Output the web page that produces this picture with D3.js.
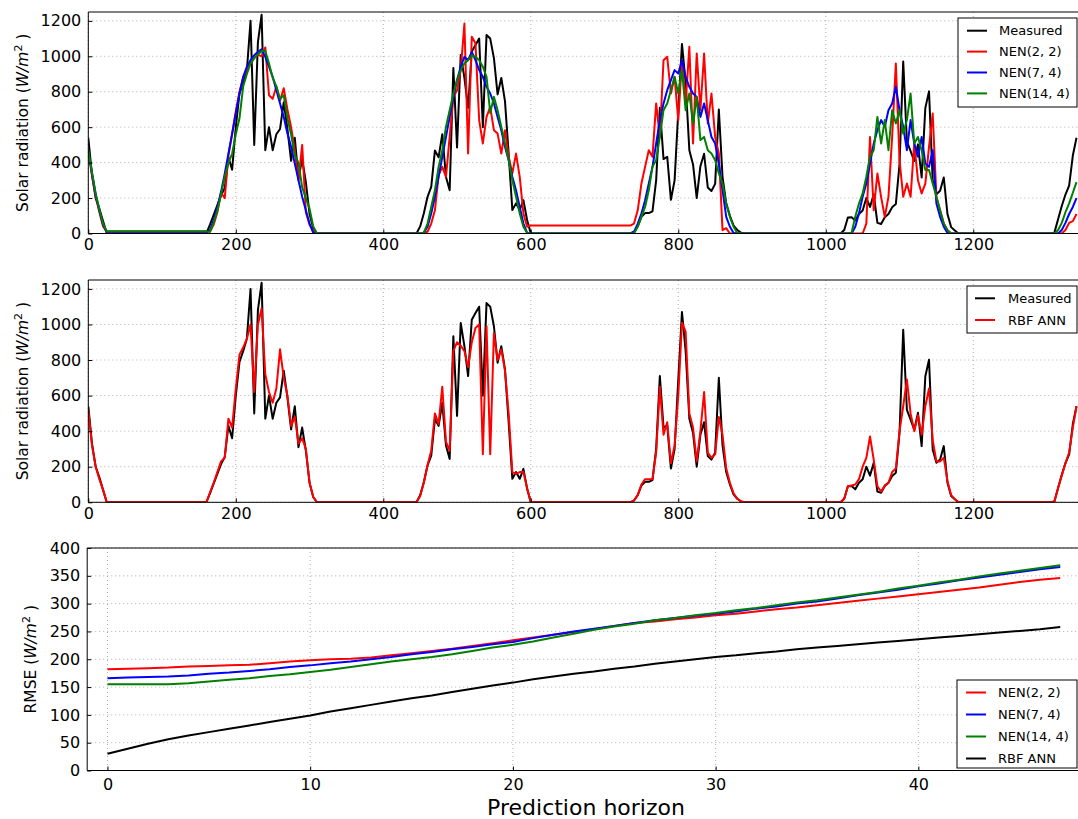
<!DOCTYPE html>
<html>
<head>
<meta charset="utf-8">
<script src="https://cdn.jsdelivr.net/npm/d3@7"></script>
<style>
    body { margin: 0; background: #fff; }
    svg text { font-family: "DejaVu Sans", sans-serif; fill: #000; }
</style>
</head>
<body>
<div id="chart"></div>
<script>
// Solar radiation series, one value every 5 samples (0 .. 1340)
const step = 5;

const measured = [
    540, 330, 200, 140, 70,
    0, 0, 0, 0, 0, 0, 0, 0, 0, 0, 0, 0, 0, 0, 0, 0, 0, 0, 0, 0, 0, 0, 0, 0, 0, 0, 0,
    0, 50, 105, 160, 215, 255, 430, 360, 600, 790, 850, 920, 1200, 500, 1080, 1235, 470, 600, 470, 560, 590, 740, 590, 410, 540, 310, 420, 290, 110, 30, 0,
    0, 0, 0, 0, 0, 0, 0, 0, 0, 0, 0, 0, 0, 0, 0, 0, 0, 0, 0, 0, 0, 0, 0, 0, 0, 0,
    0, 40, 114, 207, 263, 468, 430, 560, 319, 244, 934, 486, 1008, 878, 710, 1027, 1064, 1100, 600, 1120, 1100, 990, 785, 878, 747, 450, 132, 170, 132, 188, 76, 0,
    0, 0, 0, 0, 0, 0, 0, 0, 0, 0, 0, 0, 0, 0, 0, 0, 0, 0, 0, 0, 0, 0, 0, 0, 0, 0, 0,
    10, 40, 94, 115, 115, 125, 300, 710, 420, 433, 190, 300, 690, 1070, 850, 470, 390, 200, 380, 450, 260, 240, 280, 700, 320, 170, 100, 45, 20, 5, 0,
    0, 0, 0, 0, 0, 0, 0, 0, 0, 0, 0, 0, 0, 0, 0, 0, 0, 0, 0, 0, 0, 0, 0, 0, 0,
    0, 20, 90, 92, 73, 110, 130, 200, 150, 222, 60, 54, 92, 110, 148, 166, 390, 970, 520, 465, 409, 503, 316, 709, 802, 297, 222, 241, 316, 110, 36, 17, 0,
    0, 0, 0, 0, 0, 0, 0, 0, 0, 0, 0, 0, 0, 0, 0, 0, 0, 0, 0, 0, 0, 0, 0,
    0, 0, 5, 80, 155, 220, 270, 440, 540
];

const nen22 = [
    460, 330, 210, 120, 40,
    10, 10, 10, 10, 10, 10, 10, 10, 10, 10, 10, 10, 10, 10, 10, 10, 10, 10, 10, 10, 10, 10, 10, 10, 10, 10, 10,
    10, 10, 50, 120, 230, 200, 440, 560, 690, 800, 880, 930, 960, 990, 1010, 1000, 1050, 780, 760, 830, 750, 820, 700, 600, 470, 300, 500, 120, 50, 15, 0,
    0, 0, 0, 0, 0, 0, 0, 0, 0, 0, 0, 0, 0, 0, 0, 0, 0, 0, 0, 0, 0, 0, 0, 0, 0, 0,
    0, 0, 3, 10, 56, 131, 330, 376, 320, 545, 771, 809, 922, 1185, 451, 1110, 1073, 640, 508, 658, 715, 583, 564, 451, 583, 433, 339, 451, 320, 113, 38, 45,
    45, 45, 45, 45, 45, 45, 45, 45, 45, 45, 45, 45, 45, 45, 45, 45, 45, 45, 45, 45, 45, 45, 45, 45, 45, 45, 45,
    56, 131, 282, 376, 470, 433, 734, 545, 978, 997, 790, 884, 640, 978, 734, 1054, 508, 1016, 696, 1016, 621, 790, 545, 451, 19, 30, 0, 0, 0, 0, 0,
    0, 0, 0, 0, 0, 0, 0, 0, 0, 0, 0, 0, 0, 0, 0, 0, 0, 0, 0, 0, 0, 0, 0, 0, 0,
    0, 0, 0, 0, 0, 0, 0, 56, 545, 131, 339, 207, 94, 207, 545, 960, 414, 207, 282, 207, 508, 301, 226, 282, 489, 677, 207, 131, 56, 19, 0, 0, 0,
    0, 0, 0, 0, 0, 0, 0, 0, 0, 0, 0, 0, 0, 0, 0, 0, 0, 0, 0, 0, 0, 0, 0,
    0, 0, 0, 0, 0, 20, 60, 70, 110
];

const nen74 = [
    470, 340, 220, 130, 50,
    10, 10, 10, 10, 10, 10, 10, 10, 10, 10, 10, 10, 10, 10, 10, 10, 10, 10, 10, 10, 10, 10, 10, 10, 10, 10, 10,
    10, 18, 75, 150, 235, 338, 451, 564, 677, 790, 884, 941, 978, 1006, 1025, 1039, 997, 941, 884, 809, 734, 658, 564, 489, 395, 301, 207, 131, 56, 4, 0,
    0, 0, 0, 0, 0, 0, 0, 0, 0, 0, 0, 0, 0, 0, 0, 0, 0, 0, 0, 0, 0, 0, 0, 0, 0, 0,
    0, 0, 5, 38, 113, 207, 320, 433, 545, 658, 771, 866, 941, 997, 978, 1025, 978, 922, 884, 828, 790, 734, 658, 583, 489, 414, 320, 244, 150, 56, 3, 0,
    0, 0, 0, 0, 0, 0, 0, 0, 0, 0, 0, 0, 0, 0, 0, 0, 0, 0, 0, 0, 0, 0, 0, 0, 0, 0, 0,
    9, 56, 113, 188, 282, 376, 508, 640, 734, 809, 866, 922, 903, 978, 884, 828, 790, 771, 658, 734, 640, 545, 508, 395, 244, 94, 38, 3, 0, 0, 0,
    0, 0, 0, 0, 0, 0, 0, 0, 0, 0, 0, 0, 0, 0, 0, 0, 0, 0, 0, 0, 0, 0, 0, 0, 0,
    0, 0, 0, 0, 38, 113, 207, 282, 395, 508, 583, 640, 602, 696, 734, 828, 696, 602, 470, 640, 508, 433, 545, 395, 376, 470, 169, 94, 38, 3, 0, 0, 0,
    0, 0, 0, 0, 0, 0, 0, 0, 0, 0, 0, 0, 0, 0, 0, 0, 0, 0, 0, 0, 0, 0, 0,
    0, 0, 0, 0, 20, 60, 110, 150, 200
];

const nen144 = [
    470, 345, 225, 135, 55,
    12, 12, 12, 12, 12, 12, 12, 12, 12, 12, 12, 12, 12, 12, 12, 12, 12, 12, 12, 12, 12, 12, 12, 12, 12, 12, 12,
    12, 10, 60, 130, 220, 320, 400, 450, 560, 650, 830, 900, 960, 990, 1010, 1030, 1030, 960, 880, 830, 760, 780, 650, 560, 440, 400, 260, 200, 140, 40, 0,
    0, 0, 0, 0, 0, 0, 0, 0, 0, 0, 0, 0, 0, 0, 0, 0, 0, 0, 0, 0, 0, 0, 0, 0, 0, 0,
    0, 0, 5, 56, 150, 244, 376, 470, 602, 696, 790, 866, 922, 960, 978, 1006, 997, 978, 941, 884, 680, 771, 696, 602, 508, 414, 301, 207, 113, 38, 3, 0,
    0, 0, 0, 0, 0, 0, 0, 0, 0, 0, 0, 0, 0, 0, 0, 0, 0, 0, 0, 0, 0, 0, 0, 0, 0, 0, 0,
    0, 38, 94, 150, 244, 376, 414, 545, 696, 734, 809, 884, 790, 922, 696, 790, 621, 771, 527, 545, 470, 451, 414, 339, 282, 169, 94, 38, 3, 0, 0,
    0, 0, 0, 0, 0, 0, 0, 0, 0, 0, 0, 0, 0, 0, 0, 0, 0, 0, 0, 0, 0, 0, 0, 0, 0,
    0, 0, 0, 5, 94, 169, 226, 320, 433, 470, 658, 508, 640, 470, 696, 621, 696, 564, 640, 790, 508, 545, 470, 358, 358, 282, 207, 131, 56, 19, 0, 0, 0,
    0, 0, 0, 0, 0, 0, 0, 0, 0, 0, 0, 0, 0, 0, 0, 0, 0, 0, 0, 0, 0, 0, 0,
    0, 0, 0, 20, 60, 120, 170, 230, 290
];

const rbfAnn = [
    520, 320, 200, 130, 70,
    0, 0, 0, 0, 0, 0, 0, 0, 0, 0, 0, 0, 0, 0, 0, 0, 0, 0, 0, 0, 0, 0, 0, 0, 0, 0, 0,
    0, 55, 110, 170, 230, 250, 470, 420, 640, 830, 870, 920, 1000, 620, 1000, 1090, 720, 620, 560, 640, 860, 700, 600, 430, 480, 330, 360, 300, 110, 30, 0,
    0, 0, 0, 0, 0, 0, 0, 0, 0, 0, 0, 0, 0, 0, 0, 0, 0, 0, 0, 0, 0, 0, 0, 0, 0, 0,
    0, 35, 110, 210, 290, 500, 440, 650, 340, 290, 850, 900, 880, 850, 760, 900, 980, 1000, 270, 990, 270, 950, 800, 860, 740, 500, 170, 160, 170, 170, 80, 0,
    0, 0, 0, 0, 0, 0, 0, 0, 0, 0, 0, 0, 0, 0, 0, 0, 0, 0, 0, 0, 0, 0, 0, 0, 0, 0, 0,
    10, 40, 100, 130, 130, 130, 280, 650, 380, 450, 220, 320, 600, 1010, 960, 500, 420, 230, 400, 620, 280, 250, 270, 480, 380, 190, 110, 50, 20, 5, 0,
    0, 0, 0, 0, 0, 0, 0, 0, 0, 0, 0, 0, 0, 0, 0, 0, 0, 0, 0, 0, 0, 0, 0, 0, 0,
    0, 20, 90, 95, 100, 130, 200, 250, 370, 240, 90, 60, 95, 110, 170, 190, 400, 540, 690, 500, 400, 490, 380, 540, 640, 350, 230, 230, 250, 120, 40, 17, 0,
    0, 0, 0, 0, 0, 0, 0, 0, 0, 0, 0, 0, 0, 0, 0, 0, 0, 0, 0, 0, 0, 0, 0,
    0, 0, 5, 80, 150, 220, 280, 420, 540
];

// RMSE per prediction horizon (0 .. 47)
const rmseNen22 = [182, 183, 184, 185, 187, 188, 189, 190, 193, 196, 198, 200, 201, 203, 207, 211, 215, 219, 224, 229, 234, 239, 244, 249, 254, 260, 265, 268, 272, 275, 279, 282, 286, 290, 293, 297, 301, 305, 309, 313, 317, 321, 325, 329, 334, 339, 343, 346];
const rmseNen74 = [166, 167, 168, 169, 171, 174, 176, 179, 182, 186, 189, 193, 196, 200, 204, 209, 213, 218, 222, 227, 231, 238, 244, 250, 255, 260, 265, 270, 274, 278, 282, 286, 291, 295, 300, 304, 309, 315, 320, 325, 331, 336, 342, 347, 352, 357, 362, 366];
const rmseNen144 = [155, 155, 155, 155, 157, 160, 163, 166, 170, 173, 177, 181, 186, 191, 196, 200, 204, 209, 215, 221, 226, 232, 239, 246, 253, 259, 264, 270, 274, 279, 283, 288, 292, 297, 302, 306, 311, 316, 321, 327, 332, 338, 343, 349, 354, 359, 364, 369];
const rmseRbf = [30, 39, 48, 56, 63, 69, 75, 81, 87, 93, 99, 106, 112, 118, 124, 130, 135, 141, 147, 153, 158, 164, 169, 174, 178, 183, 187, 192, 196, 200, 204, 207, 211, 214, 218, 221, 224, 227, 230, 233, 236, 239, 242, 245, 248, 251, 254, 258];

const solarTicks = [0, 200, 400, 600, 800, 1000, 1200];
const rmseTicks = [0, 50, 100, 150, 200, 250, 300, 350, 400];
const horizonTicks = [0, 10, 20, 30, 40];

const width = 1078;
const height = 819;

const svg = d3.select('#chart')
    .append('svg')
    .attr('width', width)
    .attr('height', height);

// Add "(W/m^2 )" style unit label
function unitLabel(g, name, cx, cy) {
    const t = g.append('text')
        .attr('transform', 'translate(' + cx + ',' + cy + ') rotate(-90)')
        .attr('text-anchor', 'middle')
        .style('font-size', '15.5px');
    t.append('tspan').text(name + ' (');
    t.append('tspan').style('font-style', 'italic').text('W/m');
    t.append('tspan').attr('dy', -6).style('font-size', '11px').text('2');
    t.append('tspan').attr('dy', 6).text(' )');
}

function legend(g, items, box) {
    g.append('rect')
        .attr('x', box.x).attr('y', box.y)
        .attr('width', box.w).attr('height', box.h)
        .attr('fill', '#fff')
        .attr('stroke', '#000')
        .attr('stroke-width', 1);
    items.forEach((d, i) => {
        const yy = box.y + box.first + i * box.gap;
        g.append('line')
            .attr('x1', box.x + box.lx).attr('x2', box.x + box.lx + 20)
            .attr('y1', yy).attr('y2', yy)
            .attr('stroke', d.color).attr('stroke-width', 2);
        g.append('text')
            .attr('x', box.x + box.tx).attr('y', yy)
            .attr('dy', '0.35em')
            .style('font-size', '13px')
            .text(d.name);
    });
}

function panel(opts) {
    const g = svg.append('g');
    const x = d3.scaleLinear().domain(opts.xDomain).range([opts.left, opts.right]);
    const y = d3.scaleLinear().domain(opts.yDomain).range([opts.bottom, opts.top]);

    // grid
    g.append('g').selectAll('line')
        .data(opts.xTicks).enter().append('line')
        .attr('x1', d => x(d)).attr('x2', d => x(d))
        .attr('y1', opts.top).attr('y2', opts.bottom)
        .attr('stroke', '#999').attr('stroke-width', 0.8)
        .attr('stroke-dasharray', '1,3');
    g.append('g').selectAll('line')
        .data(opts.yTicks).enter().append('line')
        .attr('x1', opts.left).attr('x2', opts.right)
        .attr('y1', d => y(d)).attr('y2', d => y(d))
        .attr('stroke', '#999').attr('stroke-width', 0.8)
        .attr('stroke-dasharray', '1,3');

    const clipId = 'clip' + opts.id;
    svg.append('clipPath').attr('id', clipId)
        .append('rect')
        .attr('x', opts.left).attr('y', opts.top)
        .attr('width', opts.right - opts.left)
        .attr('height', opts.bottom - opts.top);

    const lines = g.append('g').attr('clip-path', 'url(#' + clipId + ')');
    opts.series.forEach(s => {
        const line = d3.line()
            .x((d, i) => x(i * s.dx))
            .y(d => y(d));
        lines.append('path')
            .datum(s.values)
            .attr('fill', 'none')
            .attr('stroke', s.color)
            .attr('stroke-width', s.width || 2)
            .attr('stroke-linejoin', 'round')
            .attr('d', line);
    });

    // axes
    const xAxis = g.append('g')
        .attr('transform', 'translate(0,' + opts.bottom + ')')
        .call(d3.axisBottom(x).tickValues(opts.xTicks).tickFormat(d3.format('d'))
            .tickSizeInner(-4).tickSizeOuter(0).tickPadding(opts.xPad));
    const yAxis = g.append('g')
        .attr('transform', 'translate(' + opts.left + ',0)')
        .call(d3.axisLeft(y).tickValues(opts.yTicks).tickFormat(d3.format('d'))
            .tickSizeInner(-4).tickSizeOuter(0).tickPadding(7));
    [xAxis, yAxis].forEach(a => {
        a.select('.domain').remove();
        a.selectAll('text').style('font-size', '16px').attr('fill', '#000');
        a.selectAll('line').attr('stroke', '#000');
    });

    // frame
    g.append('path')
        .attr('d', 'M' + opts.right + ',' + opts.top + 'H' + opts.left + 'V' + opts.bottom + 'H' + opts.right)
        .attr('fill', 'none')
        .attr('stroke', '#000')
        .attr('stroke-width', 1);

    legend(g, opts.legend, opts.legendBox);
    unitLabel(g, opts.yLabel, opts.yLabelX, (opts.top + opts.bottom) / 2);
    return g;
}

// Top panel: measured vs NEN models
panel({
    id: 1,
    left: 88.3, right: 1080.2, top: 12, bottom: 233.5,
    xDomain: [0, 1345], yDomain: [0, 1250],
    xTicks: solarTicks, yTicks: solarTicks, xPad: 5,
    series: [
        { values: measured, color: '#000', dx: step },
        { values: nen22, color: '#ff0000', dx: step },
        { values: nen74, color: '#0000ff', dx: step },
        { values: nen144, color: '#008000', dx: step },
    ],
    legend: [
        { name: 'Measured', color: '#000' },
        { name: 'NEN(2, 2)', color: '#ff0000' },
        { name: 'NEN(7, 4)', color: '#0000ff' },
        { name: 'NEN(14, 4)', color: '#008000' },
    ],
    legendBox: { x: 958, y: 18, w: 119, h: 89, first: 12.7, gap: 20.9, lx: 9, tx: 41 },
    yLabel: 'Solar radiation', yLabelX: 28,
});

// Middle panel: measured vs RBF ANN
panel({
    id: 2,
    left: 88.3, right: 1080.2, top: 280, bottom: 502.3,
    xDomain: [0, 1345], yDomain: [0, 1250],
    xTicks: solarTicks, yTicks: solarTicks, xPad: 5,
    series: [
        { values: measured, color: '#000', dx: step },
        { values: rbfAnn, color: '#ff0000', dx: step },
    ],
    legend: [
        { name: 'Measured', color: '#000' },
        { name: 'RBF ANN', color: '#ff0000' },
    ],
    legendBox: { x: 967, y: 286, w: 110, h: 47, first: 12.3, gap: 21.7, lx: 8, tx: 41 },
    yLabel: 'Solar radiation', yLabelX: 28,
});

// Bottom panel: RMSE vs prediction horizon
panel({
    id: 3,
    left: 87.2, right: 1080.5, top: 548, bottom: 770.5,
    xDomain: [-1, 48], yDomain: [0, 400],
    xTicks: horizonTicks, yTicks: rmseTicks, xPad: 8,
    series: [
        { values: rmseNen22, color: '#ff0000', dx: 1 },
        { values: rmseNen74, color: '#0000ff', dx: 1 },
        { values: rmseNen144, color: '#008000', dx: 1 },
        { values: rmseRbf, color: '#000', dx: 1 },
    ],
    legend: [
        { name: 'NEN(2, 2)', color: '#ff0000' },
        { name: 'NEN(7, 4)', color: '#0000ff' },
        { name: 'NEN(14, 4)', color: '#008000' },
        { name: 'RBF ANN', color: '#000' },
    ],
    legendBox: { x: 957, y: 680, w: 120, h: 88, first: 12.5, gap: 22, lx: 9, tx: 41 },
    yLabel: 'RMSE', yLabelX: 36,
});

svg.append('text')
    .attr('x', 586).attr('y', 815)
    .attr('text-anchor', 'middle')
    .style('font-size', '22px')
    .text('Prediction horizon');
</script>
</body>
</html>
